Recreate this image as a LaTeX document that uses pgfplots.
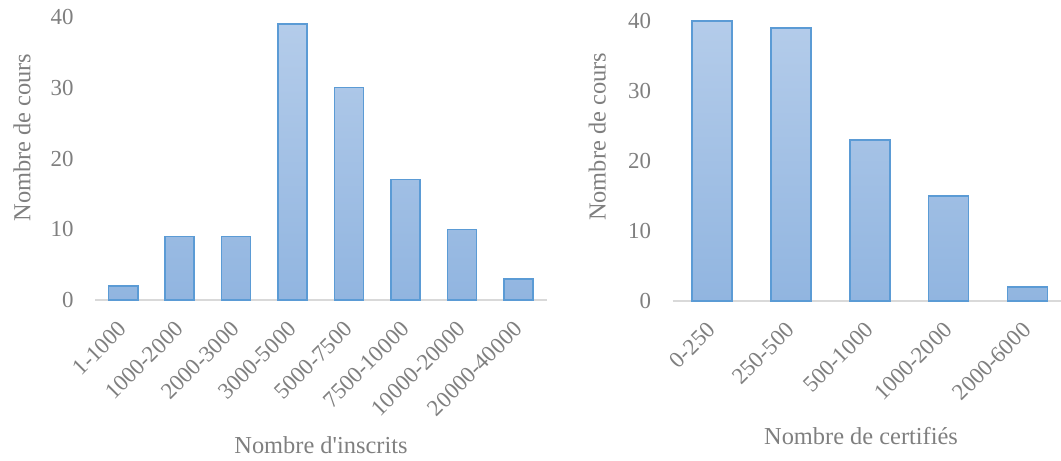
\documentclass[border=0pt]{standalone}
\usepackage{fontspec}
\setmainfont{Liberation Serif}
\usepackage{pgfplots}
\pgfplotsset{compat=1.18}
\definecolor{txt}{HTML}{7F7F7F}
\definecolor{barline}{HTML}{5B9BD5}
\definecolor{bartop}{HTML}{B4CCEA}
\definecolor{barbot}{HTML}{91B5E0}
\definecolor{axl}{HTML}{D9D9D9}
\pgfplotsset{mystyle/.style={
 scale only axis, anchor=south west, ymin=0, ymax=40, ytick={0,10,20,30,40},
 axis x line*=bottom, axis y line*=left, y axis line style={draw=none},
 x axis line style={draw=axl, line width=1.5bp},
 major tick length=0pt,
 tick label style={font=\fontsize{23}{27}\selectfont, text=txt},
 label style={font=\fontsize{24.5}{28}\selectfont, text=txt},
 /pgf/number format/assume math mode=true,
 xtick=data,
 xticklabel style={rotate=45, anchor=east, yshift=-17.5bp, xshift=-15bp},
 yticklabel style={xshift=-18bp},
 ybar,
 every axis plot post/.append style={draw=barline, line width=1.5bp, top color=bartop, bottom color=barbot},
 clip=false,
}}
\begin{document}
\begin{tikzpicture}
\useasboundingbox (0,0) rectangle (1061bp,461bp);
\begin{axis}[mystyle, at={(95bp,161bp)}, width=452bp, height=283bp,
 xmin=-0.5, xmax=7.5, bar width=29bp,
 xticklabels={1-1000,1000-2000,2000-3000,3000-5000,5000-7500,7500-10000,10000-20000,20000-40000},
 xlabel={Nombre d\textquotesingle inscrits}, ylabel={Nombre de cours},
 xlabel style={at={(axis description cs:0.5,-0.512)}, anchor=center},
 ylabel style={at={(axis description cs:-0.1615,0.574)}, anchor=center}]
\addplot coordinates {(0,2) (1,9) (2,9) (3,39) (4,30) (5,17) (6,10) (7,3)};
\end{axis}
\begin{axis}[mystyle, at={(672.5bp,160bp)}, width=394.5bp, height=280bp,
 xmin=-0.5, xmax=4.5, bar width=40bp,
 xticklabels={0-250,250-500,500-1000,1000-2000,2000-6000},
 xlabel={Nombre de certifiés}, ylabel={Nombre de cours},
 xlabel style={at={(axis description cs:0.478,-0.482)}, anchor=center},
 ylabel style={at={(axis description cs:-0.191,0.586)}, anchor=center}]
\addplot coordinates {(0,40) (1,39) (2,23) (3,15) (4,2)};
\end{axis}
\end{tikzpicture}
\end{document}
